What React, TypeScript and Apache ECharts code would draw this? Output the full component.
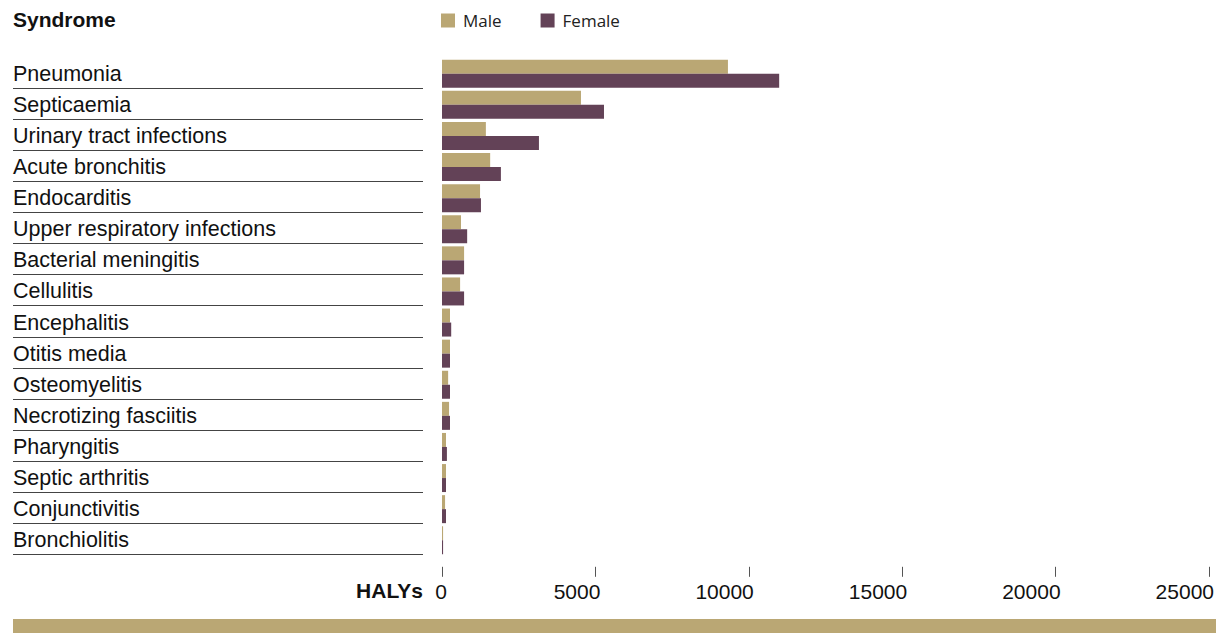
import React, { useEffect, useRef } from "react";
import * as echarts from "echarts";

const categories = [
  "Pneumonia",
  "Septicaemia",
  "Urinary tract infections",
  "Acute bronchitis",
  "Endocarditis",
  "Upper respiratory infections",
  "Bacterial meningitis",
  "Cellulitis",
  "Encephalitis",
  "Otitis media",
  "Osteomyelitis",
  "Necrotizing fasciitis",
  "Pharyngitis",
  "Septic arthritis",
  "Conjunctivitis",
  "Bronchiolitis",
];

const maleValues = [9320, 4530, 1430, 1570, 1240, 620, 720, 590, 260, 260, 200, 230, 130, 130, 100, 35];
const femaleValues = [10990, 5280, 3160, 1920, 1270, 820, 720, 720, 300, 260, 260, 260, 160, 130, 130, 35];

const xTicks = { min: 0, max: 25000, interval: 5000 };

const MALE = "#BAA774";
const FEMALE = "#634257";
const FONT = "'Liberation Sans', Arial, Helvetica, sans-serif";
const BAR_W = 14;

export default function App() {
  const ref = useRef<HTMLDivElement>(null);

  useEffect(() => {
    if (!ref.current) return;
    const chart = echarts.init(ref.current, null, { renderer: "svg" });
    chart.setOption({
      animation: false,
      backgroundColor: "#ffffff",
      title: {
        text: "Syndrome",
        left: 13,
        top: 9,
        padding: 0,
        textStyle: { fontFamily: FONT, fontSize: 21, fontWeight: "bold", color: "#111" },
      },
      legend: {
        data: ["Male", "Female"],
        left: 441,
        top: 12,
        padding: 0,
        icon: "rect",
        itemWidth: 14,
        itemHeight: 14,
        itemGap: 39,
        textStyle: { fontFamily: "'Open Sans', sans-serif", fontSize: 17, color: "#222", padding: [0, 0, 0, 3] },
      },
      grid: { left: 442, right: 10, top: 58.2, bottom: 77.2, containLabel: false, outerBoundsMode: "none" },
      xAxis: {
        type: "value",
        min: xTicks.min,
        max: xTicks.max,
        interval: xTicks.interval,
        offset: 11,
        axisLine: { show: false },
        axisTick: { show: true, length: 10, lineStyle: { color: "#555", width: 1 } },
        splitLine: { show: false },
        axisLabel: {
          margin: 14,
          fontFamily: FONT,
          fontSize: 21,
          color: "#111",
          align: "right",
          padding: [0, -5, 0, 0],
          formatter: (v: number) => String(v),
        },
      },
      yAxis: {
        type: "category",
        data: categories,
        inverse: true,
        axisLine: { show: false },
        axisTick: { show: false },
        splitLine: { show: false },
        axisLabel: { align: "left", margin: 429, fontFamily: FONT, fontSize: 21.5, color: "#111" },
      },
      series: [
        {
          name: "Male",
          type: "bar",
          data: maleValues,
          barWidth: BAR_W,
          barGap: "0%",
          itemStyle: { color: MALE },
        },
        {
          name: "Female",
          type: "bar",
          data: femaleValues,
          barWidth: BAR_W,
          barGap: "0%",
          itemStyle: { color: FEMALE },
        },
        {
          name: "separators",
          type: "custom",
          silent: true,
          clip: false,
          data: categories.map((_, i) => [0, i]),
          renderItem: (params: any, api: any) => {
            const c = api.coord([0, api.value(1)]);
            const cs = params.coordSys;
            const y = Math.round(c[1] + BAR_W) + 0.5;
            return {
              type: "line",
              shape: { x1: cs.x - 429, y1: y, x2: cs.x - 19, y2: y },
              style: { stroke: "#444", lineWidth: 1 },
            };
          },
        },
      ],
      graphic: [
        {
          type: "text",
          x: 423,
          y: 590,
          style: {
            text: "HALYs",
            align: "right",
            verticalAlign: "middle",
            fontFamily: FONT,
            fontSize: 21,
            fontWeight: "bold",
            fill: "#111",
          },
        },
        {
          type: "rect",
          shape: { x: 13, y: 619, width: 1203, height: 14 },
          style: { fill: MALE },
        },
      ],
    });
    return () => chart.dispose();
  }, []);

  return (
    <div
      ref={ref}
      style={{ position: "absolute", left: 0, top: 0, width: 1219, height: 633 }}
    />
  );
}
